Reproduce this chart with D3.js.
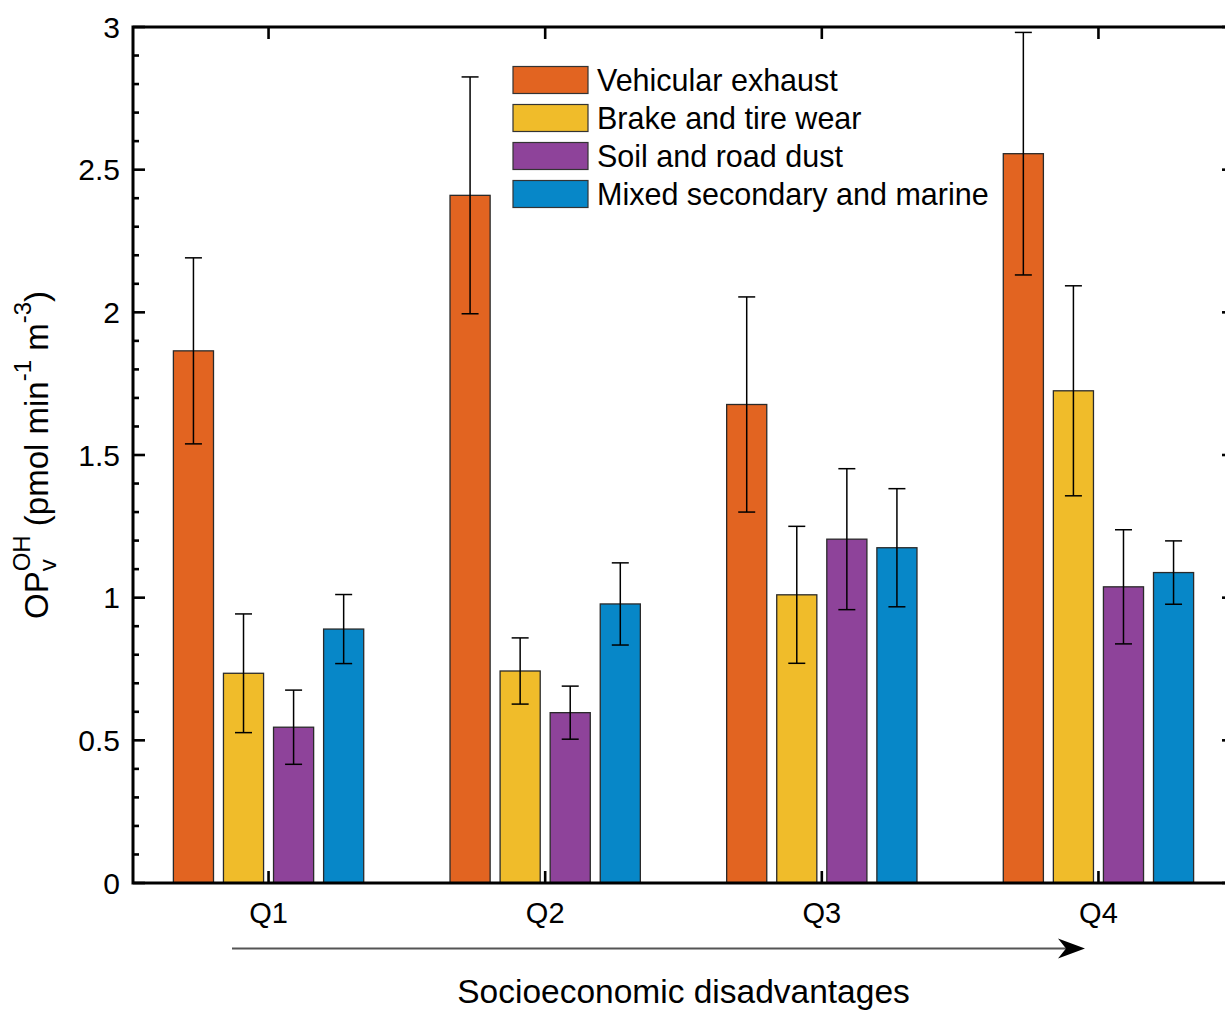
<!DOCTYPE html>
<html>
<head>
<meta charset="utf-8">
<script src="https://cdn.jsdelivr.net/npm/d3@7"></script>
<style>
  html, body { margin: 0; padding: 0; background: #fff; }
  svg { display: block; }
  text { font-family: "Liberation Sans", Arial, Helvetica, sans-serif; fill: #000; }
</style>
</head>
<body>
<svg id="chart" width="1225" height="1010"></svg>
<script>
// ---- data ----
const categories = ["Q1", "Q2", "Q3", "Q4"];
const seriesNames = ["Vehicular exhaust", "Brake and tire wear", "Soil and road dust", "Mixed secondary and marine"];
const vehicularExhaust    = [1.865, 2.410, 1.677, 2.556];
const vehicularExhaustErr = [0.326, 0.415, 0.377, 0.425];
const brakeTireWear       = [0.735, 0.743, 1.010, 1.725];
const brakeTireWearErr    = [0.208, 0.116, 0.240, 0.368];
const soilRoadDust        = [0.546, 0.597, 1.205, 1.038];
const soilRoadDustErr     = [0.130, 0.093, 0.247, 0.200];
const mixedSecMarine      = [0.890, 0.978, 1.175, 1.088];
const mixedSecMarineErr   = [0.121, 0.144, 0.207, 0.111];
const yTicks = [0, 0.5, 1, 1.5, 2, 2.5, 3];
const yTickLabels = ["0", "0.5", "1", "1.5", "2", "2.5", "3"];
const xLabel = "Socioeconomic disadvantages";

const seriesValues = [vehicularExhaust, brakeTireWear, soilRoadDust, mixedSecMarine];
const seriesErrors = [vehicularExhaustErr, brakeTireWearErr, soilRoadDustErr, mixedSecMarineErr];
const colors = ["#E26421", "#F0BC2A", "#8E439A", "#0787C8"];

// ---- layout ----
const pL = 133, pR = 1234, pT = 27, pB = 883;
const svg = d3.select("#chart");

const x = d3.scaleLinear().domain([0.51, 4.49]).range([pL, pR]);
const y = d3.scaleLinear().domain([0, 3]).range([pB, pT]);
const barStep = 0.181, barWidth = 0.145;

// bars
const barData = [];
seriesValues.forEach((vals, s) => {
  vals.forEach((v, c) => {
    barData.push({ s, c, v, e: seriesErrors[s][c], pos: (c + 1) + (s - 1.5) * barStep });
  });
});

const gBars = svg.append("g");
gBars.selectAll("rect").data(barData).enter().append("rect")
  .attr("x", d => x(d.pos - barWidth / 2))
  .attr("width", d => x(d.pos + barWidth / 2) - x(d.pos - barWidth / 2))
  .attr("y", d => y(d.v))
  .attr("height", d => y(0) - y(d.v))
  .attr("fill", d => colors[d.s])
  .attr("stroke", "#2a2a2a")
  .attr("stroke-width", 1.3);

// error bars
const gErr = svg.append("g").attr("stroke", "#000").attr("stroke-width", 1.5);
const capHalf = 8.5;
barData.forEach(d => {
  const cx = x(d.pos);
  gErr.append("line").attr("x1", cx).attr("x2", cx).attr("y1", y(d.v + d.e)).attr("y2", y(d.v - d.e));
  gErr.append("line").attr("x1", cx - capHalf).attr("x2", cx + capHalf).attr("y1", y(d.v + d.e)).attr("y2", y(d.v + d.e));
  gErr.append("line").attr("x1", cx - capHalf).attr("x2", cx + capHalf).attr("y1", y(d.v - d.e)).attr("y2", y(d.v - d.e));
});

// axes frame and ticks
const gAx = svg.append("g").attr("stroke", "#000").attr("stroke-width", 2.6).attr("fill", "none");
const minor = d3.range(0, 30.5, 1).map(v => v / 10);
minor.forEach(v => {
  const isMajor = Math.abs(v * 2 - Math.round(v * 2)) < 1e-6;
  const len = isMajor ? 12 : 6;
  gAx.append("line").attr("x1", pL).attr("x2", pL + len).attr("y1", y(v)).attr("y2", y(v));
  gAx.append("line").attr("x1", pR).attr("x2", pR - len).attr("y1", y(v)).attr("y2", y(v));
});
categories.forEach((c, i) => {
  gAx.append("line").attr("x1", x(i + 1)).attr("x2", x(i + 1)).attr("y1", pB).attr("y2", pB - 12);
  gAx.append("line").attr("x1", x(i + 1)).attr("x2", x(i + 1)).attr("y1", pT).attr("y2", pT + 12);
});
gAx.append("rect").attr("x", pL).attr("y", pT).attr("width", pR - pL).attr("height", pB - pT)
  .attr("stroke-width", 3);

// y tick labels
svg.append("g").selectAll("text").data(yTicks).enter().append("text")
  .attr("x", pL - 13)
  .attr("y", d => y(d) + 10.5)
  .attr("text-anchor", "end")
  .attr("font-size", 30)
  .text((d, i) => yTickLabels[i]);

// x tick labels
svg.append("g").selectAll("text").data(categories).enter().append("text")
  .attr("x", (d, i) => x(i + 1))
  .attr("y", 923)
  .attr("text-anchor", "middle")
  .attr("font-size", 29)
  .text(d => d);

// arrow
svg.append("line").attr("x1", 232).attr("x2", 1066).attr("y1", 948.5).attr("y2", 948.5)
  .attr("stroke", "#555").attr("stroke-width", 2);
svg.append("path").attr("d", "M1085,948.5 L1058,938.5 L1066,948.5 L1058,958.5 Z").attr("fill", "#000");

// x axis title
svg.append("text").attr("x", (pL + pR) / 2).attr("y", 1003)
  .attr("text-anchor", "middle").attr("font-size", 33.5).text(xLabel);

// y axis title (rotated, with super/subscripts)
const gY = svg.append("g").attr("transform", "translate(0,455) rotate(-90)");
const pieces = [
  { t: "OP", size: 33, dy: 0 },
  { t: "OH", size: 24, dy: -18, stackStart: true },
  { t: "v", size: 24, dy: 8, stackEnd: true },
  { t: " (pmol min", size: 33, dy: 0 },
  { t: "-1", size: 24, dy: -17 },
  { t: " m", size: 33, dy: 0 },
  { t: "-3", size: 24, dy: -17 },
  { t: ")", size: 33, dy: 0 }
];
const baseY = 48;
let cursor = 0, stackX = 0, stackW = 0;
const nodes = [];
pieces.forEach(p => {
  const px = p.stackEnd ? stackX : cursor;
  const t = gY.append("text").attr("x", px).attr("y", baseY + p.dy)
    .attr("font-size", p.size).style("white-space", "pre").text(p.t);
  const w = t.node().getComputedTextLength();
  nodes.push(t);
  if (p.stackStart) { stackX = cursor; stackW = w; }
  else if (p.stackEnd) { cursor = stackX + Math.max(stackW, w); }
  else { cursor += w; }
});
const total = cursor;
nodes.forEach(n => n.attr("x", +n.attr("x") - total / 2));

// legend
const gLeg = svg.append("g");
seriesNames.forEach((name, i) => {
  const cy = 80 + i * 38;
  gLeg.append("rect").attr("x", 513).attr("y", cy - 13.5).attr("width", 75).attr("height", 27)
    .attr("fill", colors[i]).attr("stroke", "#333").attr("stroke-width", 1.2);
  gLeg.append("text").attr("x", 597).attr("y", cy + 10.5).attr("font-size", 30.5).text(name);
});
</script>
</body>
</html>
